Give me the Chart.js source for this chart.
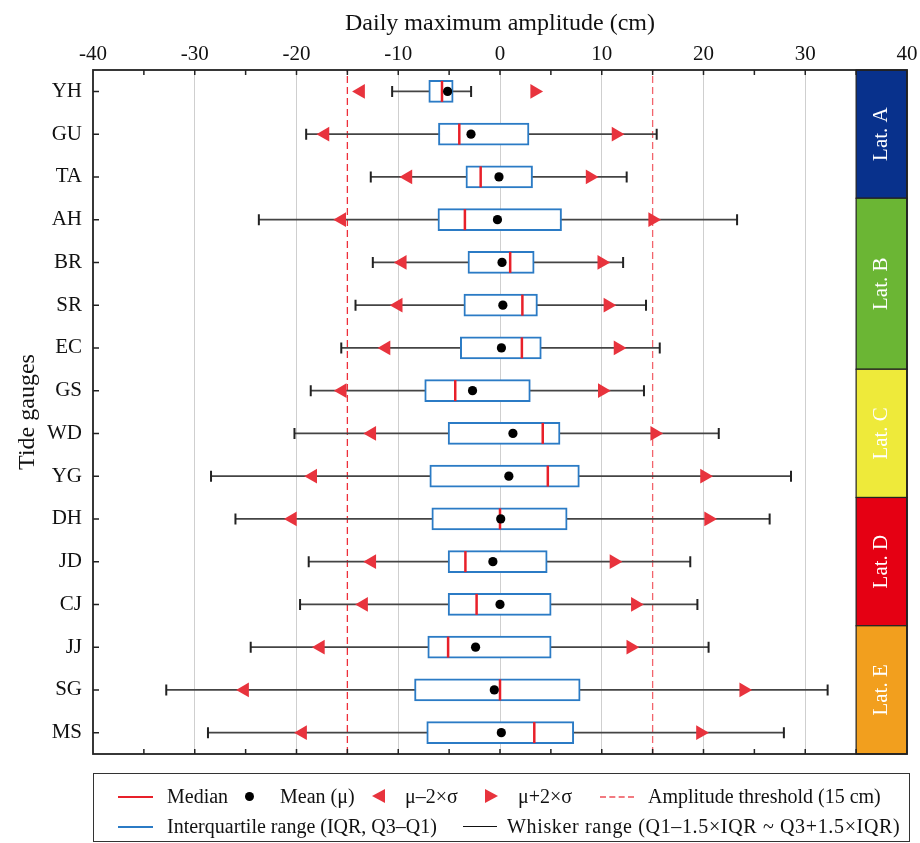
<!DOCTYPE html>
<html>
<head>
<meta charset="utf-8">
<script src="https://cdn.jsdelivr.net/npm/chart.js@4.4.1/dist/chart.umd.min.js"></script>
<style>
  body { margin: 0; background: #fff; }
  #wrap { position: relative; width: 920px; height: 843px; font-family: 'Liberation Serif', 'Times New Roman', serif; color: #111; }
  #c { position: absolute; left: 0; top: 0; }
  #legend { position: absolute; left: 93px; top: 773px; width: 817px; height: 69px; border: 1.5px solid #333; box-sizing: border-box; }
  .it { position: absolute; font-size: 20px; line-height: 22px; white-space: nowrap; }
  .ln { position: absolute; height: 0; }
  .dot { position: absolute; width: 9px; height: 9px; border-radius: 50%; background: #000; }
  .tl { position: absolute; width: 0; height: 0; border-top: 7px solid transparent; border-bottom: 7px solid transparent; border-right: 13px solid #e8333d; }
  .tr { position: absolute; width: 0; height: 0; border-top: 7px solid transparent; border-bottom: 7px solid transparent; border-left: 13px solid #e8333d; }
</style>
</head>
<body>
<div id="wrap">
  <canvas id="c" width="920" height="843"></canvas>
  <div id="legend">
    <!-- row 1 -->
    <div class="ln" style="left:24px;top:22px;width:35px;border-top:2px solid #e8202a"></div>
    <div class="it" style="left:73px;top:11px">Median</div>
    <div class="dot" style="left:151px;top:18px"></div>
    <div class="it" style="left:186px;top:11px">Mean (μ)</div>
    <div class="tl" style="left:278px;top:15px"></div>
    <div class="it" style="left:311px;top:11px">μ–2×σ</div>
    <div class="tr" style="left:391px;top:15px"></div>
    <div class="it" style="left:424px;top:11px">μ+2×σ</div>
    <div class="ln" style="left:506px;top:22px;width:34px;border-top:2px dashed #f27a80"></div>
    <div class="it" style="left:554px;top:11px">Amplitude threshold (15 cm)</div>
    <!-- row 2 -->
    <div class="ln" style="left:24px;top:52px;width:35px;border-top:2px solid #2b7bc5"></div>
    <div class="it" style="left:73px;top:41px">Interquartile range (IQR, Q3–Q1)</div>
    <div class="ln" style="left:369px;top:52px;width:34px;border-top:1.5px solid #111"></div>
    <div class="it" style="left:413px;top:41px;letter-spacing:0.65px">Whisker range (Q1–1.5×IQR ~ Q3+1.5×IQR)</div>
  </div>
</div>
<script>
// tide gauges, top to bottom
var gauges = ['YH', 'GU', 'TA', 'AH', 'BR', 'SR', 'EC', 'GS', 'WD', 'YG', 'DH', 'JD', 'CJ', 'JJ', 'SG', 'MS'];
// whisker ends (Q1-1.5IQR, Q3+1.5IQR)
var whiskerLo = [-10.6, -19.05, -12.7, -23.7, -12.5, -14.2, -15.6, -18.6, -20.2, -28.4, -26.0, -18.8, -19.65, -24.5, -32.8, -28.7];
var whiskerHi = [-2.84, 15.4, 12.45, 23.3, 12.1, 14.35, 15.7, 14.15, 21.5, 28.6, 26.5, 18.7, 19.4, 20.5, 32.2, 27.9];
// quartiles
var q1 = [-7.0, -6.05, -3.35, -6.1, -3.15, -3.55, -3.9, -7.4, -5.1, -6.9, -6.7, -5.1, -5.1, -7.1, -8.4, -7.2];
var q3 = [-4.6, 2.85, 3.2, 6.05, 3.36, 3.68, 4.06, 2.98, 5.9, 7.8, 6.6, 4.64, 5.03, 5.03, 7.88, 7.25];
var median = [-5.7, -4.0, -1.9, -3.45, 1.0, 2.2, 2.15, -4.4, 4.2, 4.7, 0.0, -3.4, -2.3, -5.1, 0.0, 3.37];
var mean = [-5.15, -2.85, -0.1, -0.25, 0.2, 0.28, 0.14, -2.7, 1.27, 0.87, 0.07, -0.7, 0.0, -2.4, -0.56, 0.13];
// mu - 2 sigma / mu + 2 sigma
var lower2s = [-13.7, -17.2, -9.05, -15.55, -9.6, -10.0, -11.2, -15.5, -12.6, -18.4, -20.4, -12.6, -13.4, -17.65, -25.1, -19.4];
var upper2s = [3.4, 11.4, 8.85, 15.0, 10.0, 10.6, 11.6, 10.05, 15.2, 20.1, 20.5, 11.2, 13.3, 12.85, 23.95, 19.7];
// amplitude threshold (cm)
var threshold = 15;
// x axis
var xMin = -40, xMax = 40, xStep = 5;
// latitude groups: name, first row, last row
var latNames = ['Lat. A', 'Lat. B', 'Lat. C', 'Lat. D', 'Lat. E'];
var latFirst = [0, 3, 7, 10, 13];
var latLast = [2, 6, 9, 12, 15];
var latFrom = 35, latTo = 40;

var latColors = ['#08318c', '#6bb634', '#eeea3a', '#e50013', '#f29f1e'];
var RED = '#e8333d';

Chart.defaults.font.family = "'Liberation Serif', 'Times New Roman', serif";
Chart.defaults.color = '#111';

function pts(vals) {
    return vals.map(function (v, i) { return { x: v, y: gauges[i] }; });
}

//--- frame, inner ticks and latitude bands
var decor = {
    id: 'decor',
    afterDatasetsDraw: function (chart) {
        var c = chart.ctx, a = chart.chartArea;
        var xs = chart.scales.x, ys = chart.scales.y;
        c.save();
        // latitude bands
        for (var k = 0; k < latNames.length; k++) {
            var x0 = xs.getPixelForValue(latFrom), x1 = xs.getPixelForValue(latTo);
            var y0 = ys.getPixelForValue(latFirst[k] - 0.5), y1 = ys.getPixelForValue(latLast[k] + 0.5);
            c.fillStyle = latColors[k];
            c.fillRect(x0, y0, x1 - x0, y1 - y0);
            c.strokeStyle = '#222';
            c.lineWidth = 1.2;
            c.strokeRect(x0, y0, x1 - x0, y1 - y0);
            c.save();
            c.translate((x0 + x1) / 2, (y0 + y1) / 2);
            c.rotate(-Math.PI / 2);
            c.fillStyle = '#fff';
            c.font = "21px 'Liberation Serif'";
            c.textAlign = 'center';
            c.textBaseline = 'middle';
            c.fillText(latNames[k], 0, 0);
            c.restore();
        }
        // frame
        c.strokeStyle = '#222';
        c.lineWidth = 1.8;
        c.strokeRect(a.left, a.top, a.right - a.left, a.bottom - a.top);
        // inner ticks
        c.lineWidth = 1.5;
        c.beginPath();
        for (var v = xMin + xStep; v < xMax; v += xStep) {
            var px = xs.getPixelForValue(v);
            c.moveTo(px, a.top); c.lineTo(px, a.top + 5);
            c.moveTo(px, a.bottom); c.lineTo(px, a.bottom - 5);
        }
        for (var i = 0; i < gauges.length; i++) {
            var py = ys.getPixelForValue(i);
            c.moveTo(a.left, py); c.lineTo(a.left + 6, py);
        }
        c.stroke();
        c.restore();
    }
};

var chart = new Chart(document.getElementById('c'), {
    type: 'bar',
    data: {
        labels: gauges,
        datasets: [
            {
                type: 'line', label: 'thresholdLo', yAxisID: 'yl', indexAxis: 'x',
                data: [{ x: -threshold, y: 0 }, { x: -threshold, y: 1 }],
                borderColor: '#ee2f3a', borderWidth: 1.3, borderDash: [7, 4], pointRadius: 0, order: 9
            },
            {
                type: 'line', label: 'thresholdHi', yAxisID: 'yl', indexAxis: 'x',
                data: [{ x: threshold, y: 0 }, { x: threshold, y: 1 }],
                borderColor: '#f2646c', borderWidth: 1.3, borderDash: [7, 4], pointRadius: 0, order: 9
            },
            {
                type: 'bar', label: 'Whisker', indexAxis: 'y', grouped: false,
                data: whiskerLo.map(function (v, i) { return [v, whiskerHi[i]]; }),
                backgroundColor: '#444', barThickness: 1.3, order: 8
            },
            {
                type: 'bar', label: 'IQR', indexAxis: 'y', grouped: false,
                data: q1.map(function (v, i) { return [v, q3[i]]; }),
                backgroundColor: '#fff', borderColor: '#2b7bc5', borderWidth: 2,
                borderSkipped: false, barThickness: 22, order: 7
            },
            {
                type: 'scatter', label: 'capsLo', data: pts(whiskerLo),
                pointStyle: 'line', rotation: 90, radius: 5.5, borderColor: '#222', borderWidth: 2, order: 6
            },
            {
                type: 'scatter', label: 'capsHi', data: pts(whiskerHi),
                pointStyle: 'line', rotation: 90, radius: 5.5, borderColor: '#222', borderWidth: 2, order: 6
            },
            {
                type: 'scatter', label: 'Median', data: pts(median),
                pointStyle: 'line', rotation: 90, radius: 10.5, borderColor: '#e8202a', borderWidth: 2.5, order: 5
            },
            {
                type: 'scatter', label: 'Mean', data: pts(mean),
                pointStyle: 'circle', radius: 4.6, backgroundColor: '#000', borderWidth: 0, order: 4
            },
            {
                type: 'scatter', label: 'mu-2s', data: pts(lower2s),
                pointStyle: 'triangle', rotation: -90, radius: 8.5, backgroundColor: RED, borderWidth: 0, order: 3
            },
            {
                type: 'scatter', label: 'mu+2s', data: pts(upper2s),
                pointStyle: 'triangle', rotation: 90, radius: 8.5, backgroundColor: RED, borderWidth: 0, order: 3
            }
        ]
    },
    options: {
        indexAxis: 'y',
        responsive: false,
        animation: false,
        events: [],
        layout: { padding: { left: 0, right: 12, top: 0, bottom: 89 } },
        plugins: { legend: { display: false }, tooltip: { enabled: false } },
        scales: {
            x: {
                type: 'linear', position: 'top', min: xMin, max: xMax,
                afterFit: function (s) { s.height = 70; s.paddingRight = 0; s.paddingLeft = 0; },
                ticks: {
                    stepSize: xStep, autoSkip: false, maxRotation: 0, padding: 3,
                    font: { size: 21 }, color: '#111',
                    callback: function (v) { return v % 10 === 0 ? String(v) : ''; }
                },
                grid: {
                    drawTicks: false,
                    color: function (ctx) {
                        var v = ctx.tick && ctx.tick.value;
                        return (v % 10 === 0 && v > xMin && v < xMax) ? '#cfcfcf' : 'rgba(0,0,0,0)';
                    }
                },
                border: { display: false },
                title: { display: true, text: 'Daily maximum amplitude (cm)', font: { size: 24 }, color: '#111', padding: { top: 9, bottom: 0 } }
            },
            y: {
                type: 'category', position: 'left',
                afterFit: function (s) { s.width = 93; },
                ticks: { padding: 11, font: { size: 21 }, color: '#111' },
                grid: { display: false, drawTicks: false },
                border: { display: false },
                title: { display: true, text: 'Tide gauges', font: { size: 24 }, color: '#111', padding: { top: 13, bottom: 0 } }
            },
            yl: { type: 'linear', display: false, offset: false, min: 0, max: 1 }
        }
    },
    plugins: [decor]
});
</script>
</body>
</html>
